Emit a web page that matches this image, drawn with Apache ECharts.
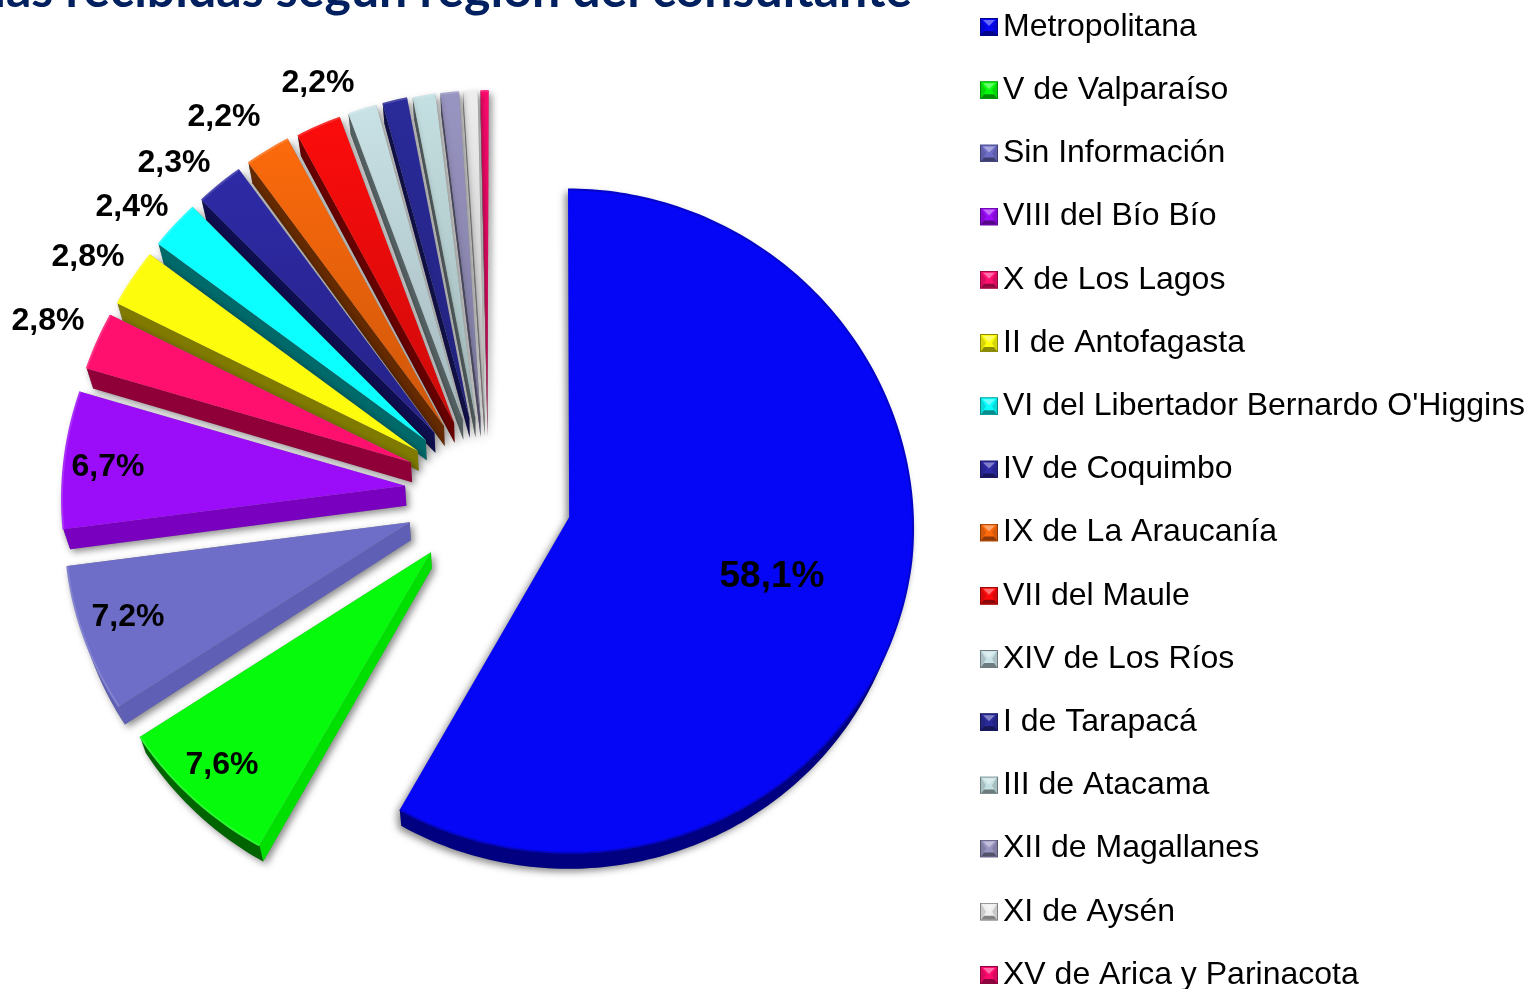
<!DOCTYPE html>
<html>
<head>
<meta charset="utf-8">
<style>
  html, body { margin: 0; padding: 0; background: #fff; overflow: hidden; }
  #chart { width: 1528px; height: 989px; }
</style>
<script src="https://cdn.jsdelivr.net/npm/echarts@6/dist/echarts.min.js"></script>
</head>
<body>
<div id="chart"></div>
<script>
const regions = ['Metropolitana', 'V de Valparaíso', 'Sin Información', 'VIII del Bío Bío', 'X de Los Lagos',
  'II de Antofagasta', "VI del Libertador Bernardo O'Higgins", 'IV de Coquimbo', 'IX de La Araucanía',
  'VII del Maule', 'XIV de Los Ríos', 'I de Tarapacá', 'III de Atacama', 'XII de Magallanes', 'XI de Aysén',
  'XV de Arica y Parinacota'];
// percent of calls; the last six have no printed label
const shares = [58.1, 7.6, 7.2, 6.7, 2.8, 2.8, 2.4, 2.3, 2.2, 2.2, 1.4, 1.2, 1.1, 0.9, 0.7, 0.4];

const faceColors = ['#0606f6', '#06fa0c', '#6e6ec8', '#9b0cf8', '#ff0f6e', '#fcfc0c', '#0cffff', '#2e2aa6',
  '#fc6a0c', '#fc0c0c', '#c9e2e6', '#2a2a9a', '#c5e0e2', '#9995c2', '#eeeeee', '#ff0a6e'];
const wallColors = ['#000080', '#00e000', '#5f5fb5', '#7a00c0', '#8f0038', '#807a00', '#006a6a', '#0e0e50',
  '#662a00', '#6a0000', '#566264', '#12124f', '#566264', '#55536f', '#888888', '#8f0038'];
const arcWallColors = ['#000080', '#006400', '#5f5fb5', '#7a00c0', '#8f0038', '#807a00', '#006a6a', '#0e0e50',
  '#662a00', '#6a0000', '#566264', '#12124f', '#566264', '#55536f', '#888888', '#8f0038'];
const sideDepths = [16, 16, 18, 20, 20, 20, 20, 20, 20, 20, 20, 20, 20, 20, 20, 20];
// small vertical corrections for what the simple projection below misses
const sliceLift = [0, -4, -3, -5, -5, -4, -4, -3, -3, -1, -1, -1, 0, 0, 0, 0];

// the data labels were placed by hand in the original
const labelSpots = [[772, 577], [222, 765], [128, 617], [108, 467], [48, 321], [88, 257], [132, 207], [174, 163],
  [224, 117], [318, 83]];

const centerX = 488;
const centerY = 497;
const radius = 345;
const tilt = 0.96;
const explode = 84;
// the original is a 3D pie: far slices shrink a little, the underside pulls in toward the middle
const perspectiveX = 0.03;
const perspectiveY = 0.012;
const pivotX = 530;
const pivotY = 560;
const undersidePull = 0.016;

const chart = echarts.init(document.getElementById('chart'));

const toRad = (pct) => (pct / 100) * Math.PI * 2;

const shade = (hex, k) => '#' + [1, 3, 5]
  .map((p) => Math.round(parseInt(hex.substr(p, 2), 16) * k).toString(16).padStart(2, '0'))
  .join('');

const project = (x, y) => {
  const t = (y - pivotY) / radius;
  const sx = 1 + perspectiveX * (t < 0 ? t : t / 2);
  const sy = 1 + (perspectiveY * (y - centerY)) / radius;
  return [pivotX + (x - pivotX) * sx, centerY + (y - centerY) * sy];
};

const onRim = (cx, cy, a) => project(cx + radius * Math.sin(a), cy - radius * tilt * Math.cos(a));

// sample an arc, angles run clockwise from 12 o'clock
const arcPoints = (cx, cy, from, to) => {
  const pts = [];
  const steps = Math.max(2, Math.ceil(((to - from) * radius) / 6));
  for (let i = 0; i <= steps; i++) {
    pts.push(onRim(cx, cy, from + ((to - from) * i) / steps));
  }
  return pts;
};

const renderSlice = (params, api) => {
  const i = params.seriesIndex;
  const value = api.value(0);
  const start = toRad(api.value(1));
  const end = start + toRad(value);
  const mid = (start + end) / 2;
  const cx = centerX + explode * Math.sin(mid);
  const cy = centerY - explode * tilt * Math.cos(mid) + sliceLift[i];
  const apex = project(cx, cy);
  const under = (p) => [p[0] + (centerX - p[0]) * undersidePull, p[1] + sideDepths[i]];
  const solids = [];

  // side walls first so the face lands on top of them
  if (Math.sin(start) < 0) {
    const p = onRim(cx, cy, start);
    solids.push({ points: [apex, p, under(p), under(apex)], fill: wallColors[i] });
  }
  const wallFrom = Math.max(start, Math.PI / 2);
  const wallTo = Math.min(end, Math.PI * 1.5);
  if (wallTo > wallFrom) {
    const rim = arcPoints(cx, cy, wallFrom, wallTo);
    solids.push({ points: rim.concat(rim.map(under).reverse()), fill: arcWallColors[i] });
  }

  const arc = arcPoints(cx, cy, start, end);
  // the narrow far slices fade a bit toward the hub
  const faceFill = i < 7 ? faceColors[i] : new echarts.graphic.LinearGradient(0, 0, 0, 1, [
    { offset: 0, color: faceColors[i] },
    { offset: 1, color: shade(faceColors[i], 0.82) }
  ]);
  solids.push({ points: [apex].concat(arc), fill: faceFill });

  // shadow pass goes under everything so a face never darkens its own wall
  const shadow = {
    shadowBlur: 7,
    shadowColor: 'rgba(0,0,0,0.45)',
    shadowOffsetX: i === 0 ? -3 : 3,
    shadowOffsetY: 3
  };
  const children = solids.map((s) => ({
    type: 'polygon',
    shape: { points: s.points },
    style: { fill: '#888', ...shadow }
  }));
  solids.forEach((s) => {
    children.push({ type: 'polygon', shape: { points: s.points }, style: { fill: s.fill } });
  });
  children.push({
    type: 'polyline',
    shape: { points: arc },
    style: {
      fill: null,
      stroke: i === 0 ? shade(faceColors[i], 0.8) : echarts.color.lift(faceColors[i], 0.15),
      lineWidth: 2
    }
  });

  if (labelSpots[i]) {
    children.push({
      type: 'text',
      style: {
        x: labelSpots[i][0],
        y: labelSpots[i][1],
        text: value.toFixed(1).replace('.', ',') + '%',
        fill: '#000',
        font: `bold ${i === 0 ? 37 : 32}px "Liberation Sans", Arial, sans-serif`,
        align: 'center',
        verticalAlign: 'middle'
      }
    });
  }
  return { type: 'group', children };
};

// bevelled legend swatch, same look as the 3D chart markers
const bevelIcon = (color) => {
  const light = echarts.color.lift(color, 0.4);
  const side = shade(color, 0.85);
  const dark = shade(color, 0.55);
  const svg = `<svg xmlns="http://www.w3.org/2000/svg" width="18" height="18">` +
    `<rect width="18" height="18" fill="${color}"/>` +
    `<polygon points="1,1 1,17 6,9" fill="${side}"/>` +
    `<polygon points="17,1 17,17 12,9" fill="${side}"/>` +
    `<polygon points="3,2 15,2 9,8" fill="${light}"/>` +
    `<polygon points="1,17 17,17 14,13 4,13" fill="${dark}"/>` +
    `<rect x="0.5" y="0.5" width="17" height="17" fill="none" stroke="${dark}"/></svg>`;
  return 'image://data:image/svg+xml;charset=utf-8,' + encodeURIComponent(svg);
};

let running = 0;
const series = regions.map((name, i) => {
  const before = running;
  running += shares[i];
  return {
    type: 'custom',
    name,
    coordinateSystem: 'none',
    // far slices are drawn first
    z: 2 + regions.length - i,
    silent: true,
    itemStyle: { color: faceColors[i] },
    renderItem: renderSlice,
    data: [[shares[i], before]]
  };
});

chart.setOption({
  animation: false,
  backgroundColor: '#fff',
  title: {
    text: 'Llamadas recibidas según región del consultante',
    right: 611,
    top: -39,
    textStyle: { color: '#002060', fontFamily: 'Lato', fontWeight: 'bold', fontSize: 50 }
  },
  legend: {
    orient: 'vertical',
    left: 975,
    top: 6,
    height: 1100,
    itemWidth: 18,
    itemHeight: 18,
    itemGap: 31.2,
    selectedMode: false,
    textStyle: { color: '#000', fontFamily: '"Liberation Sans", Arial, sans-serif', fontSize: 32, lineHeight: 32 },
    data: regions.map((name, i) => ({ name, icon: bevelIcon(faceColors[i]) }))
  },
  series
});
</script>
</body>
</html>
